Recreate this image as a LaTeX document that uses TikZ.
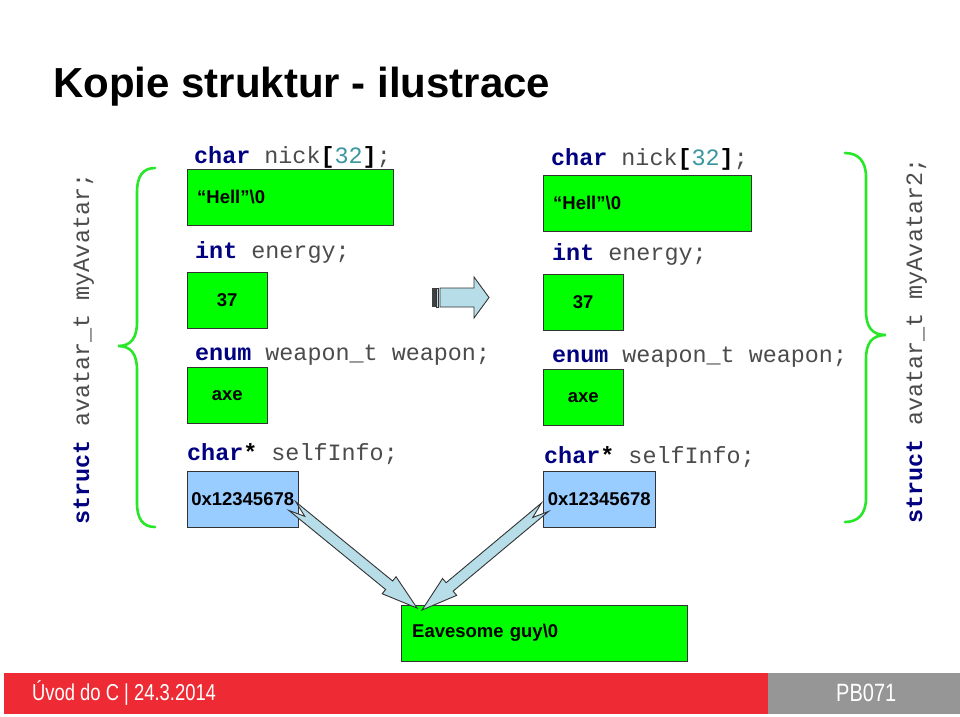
\documentclass[tikz,border=0pt]{standalone}
\usepackage{fontspec}
\setmainfont{Liberation Sans}
\setmonofont{Liberation Mono}
\newfontfamily\footfont[FakeStretch=0.8]{Liberation Sans}
\usetikzlibrary{calc}

\definecolor{cellgreen}{RGB}{0,255,0}
\definecolor{ptrblue}{RGB}{153,204,255}
\definecolor{bracegreen}{RGB}{40,230,40}
\definecolor{arrowblue}{RGB}{183,221,232}
\definecolor{kwblue}{RGB}{0,0,128}
\definecolor{codegray}{RGB}{75,75,75}
\definecolor{numteal}{RGB}{60,150,160}
\definecolor{footred}{RGB}{238,43,52}
\definecolor{footgray}{RGB}{150,150,150}

\newcommand{\kw}[1]{\textbf{\textcolor{kwblue}{#1}}}
\newcommand{\op}[1]{\textbf{\textcolor{black}{#1}}}
% fat block arrow from tail #1 to tip #2 (notched tail)
\newcommand{\fatarrow}[2]{%
  \filldraw[fatbody]
    ($(#1)!16pt!(#2)$)
    -- ($(#1)!5.5pt!90:(#2)$)
    -- ($(#2)!36pt!(#1)!5.5pt!-90:(#1)$)
    -- ($(#2)!36pt!(#1)!11pt!-90:(#1)$)
    -- (#2)
    -- ($(#2)!36pt!(#1)!11pt!90:(#1)$)
    -- ($(#2)!36pt!(#1)!5.5pt!90:(#1)$)
    -- ($(#1)!5.5pt!-90:(#2)$)
    -- cycle;}

\begin{document}
\begin{tikzpicture}[x=1pt,y=-1pt,
  title/.style={anchor=base west,inner sep=0pt,
                font=\bfseries\fontsize{42}{50}\selectfont},
  codelabel/.style={anchor=base west,inner sep=0pt,text=codegray,
                    font=\ttfamily\fontsize{23.4}{28}\selectfont},
  cell/.style={draw=black!80,fill=cellgreen,anchor=north west,
               minimum height=56pt,inner sep=0pt,
               font=\bfseries\fontsize{18.5}{22}\selectfont},
  brace/.style={draw=bracegreen,line width=2.6pt,line cap=round},
  fatbody/.style={fill=arrowblue,draw=black!80,line width=0.9pt,
                  line join=miter},
  foottext/.style={anchor=base west,inner sep=0pt,text=white,
                   font=\footfont\fontsize{23}{28}\selectfont}]
  \useasboundingbox (0,0) rectangle (960,716);
  \fill[white] (0,0) rectangle (960,716);

  \node[title] (title) at (53,97) {Kopie struktur - ilustrace};

  % myAvatar
  \node[codelabel,rotate=90] (lstruct) at (89,525)
    {\kw{struct} avatar\_t myAvatar;};
  \draw[brace] (155,168) .. controls (143,168) and (137,176) .. (137,192)
    -- (137,322) .. controls (137,338) and (131,346) .. (118,346)
    .. controls (131,346) and (137,354) .. (137,370)
    -- (137,503) .. controls (137,519) and (143,527) .. (155,527);
  \node[codelabel] (lnick) at (194,163)
    {\kw{char} nick\op{[}\textcolor{numteal}{32}\op{]};};
  \node[cell,text width=186pt,inner xsep=10pt,align=left] (lhell)
    at (187,169) {“Hell”\textbackslash 0};
  \node[codelabel] (lenergy) at (195,258) {\kw{int} energy;};
  \node[cell,minimum width=80pt] (l37) at (187,272) {37};
  \node[codelabel] (lweapon) at (195,360) {\kw{enum} weapon\_t weapon;};
  \node[cell,minimum width=80pt] (laxe) at (187,367) {axe};
  \node[codelabel] (lself) at (187,460) {\kw{char}\op{*} selfInfo;};
  \node[cell,fill=ptrblue,minimum width=111pt] (lptr) at (187,471) {0x12345678};

  % copy arrow
  \fill[black!75] (432,288) rectangle (436,307);
  \filldraw[fatbody] (436.5,288) rectangle (438.5,307);
  \filldraw[fatbody] (440,288) -- (474,288) -- (474,277) -- (489,297.5)
    -- (474,318) -- (474,307) -- (440,307) -- cycle;

  % myAvatar2
  \node[codelabel] (rnick) at (551,165)
    {\kw{char} nick\op{[}\textcolor{numteal}{32}\op{]};};
  \node[cell,text width=188pt,inner xsep=10pt,align=left] (rhell)
    at (543,175) {“Hell”\textbackslash 0};
  \node[codelabel] (renergy) at (552,260) {\kw{int} energy;};
  \node[cell,minimum width=80pt] (r37) at (543,274) {37};
  \node[codelabel] (rweapon) at (552,362) {\kw{enum} weapon\_t weapon;};
  \node[cell,minimum width=80pt] (raxe) at (543,369) {axe};
  \node[codelabel] (rself) at (544,463) {\kw{char}\op{*} selfInfo;};
  \node[cell,fill=ptrblue,minimum width=112pt] (rptr) at (543,471) {0x12345678};
  \draw[brace] (845,153) .. controls (858,153) and (866,161) .. (866,177)
    -- (866,311) .. controls (866,327) and (872,335) .. (886,335)
    .. controls (872,335) and (866,343) .. (866,359)
    -- (866,498) .. controls (866,514) and (858,522) .. (845,522);
  \node[codelabel,rotate=90] (rstruct) at (922,524)
    {\kw{struct} avatar\_t myAvatar2;};

  % shared string
  \node[cell,text width=264pt,inner xsep=11pt,align=left] (eav)
    at (401,605) {Eavesome guy\textbackslash 0};
  \coordinate (ltail) at ($(lptr.east)+(-6,7)$);
  \coordinate (ltip) at ($(eav.north west)+(16,3)$);
  \coordinate (rtail) at ($(rptr.west)+(2,8)$);
  \coordinate (rtip) at ($(eav.north west)+(21,5)$);
  \fatarrow{ltail}{ltip}
  \fatarrow{rtail}{rtip}

  % footer
  \fill[footred] (4,673) rectangle (768,714);
  \fill[footgray] (768,673) rectangle (960,714);
  \node[foottext] (footl) at (32,700) {Úvod do C | 24.3.2014};
  \node[foottext,font=\footfont\fontsize{25}{30}\selectfont] (footr)
    at (836,701) {PB071};
\end{tikzpicture}
\end{document}
